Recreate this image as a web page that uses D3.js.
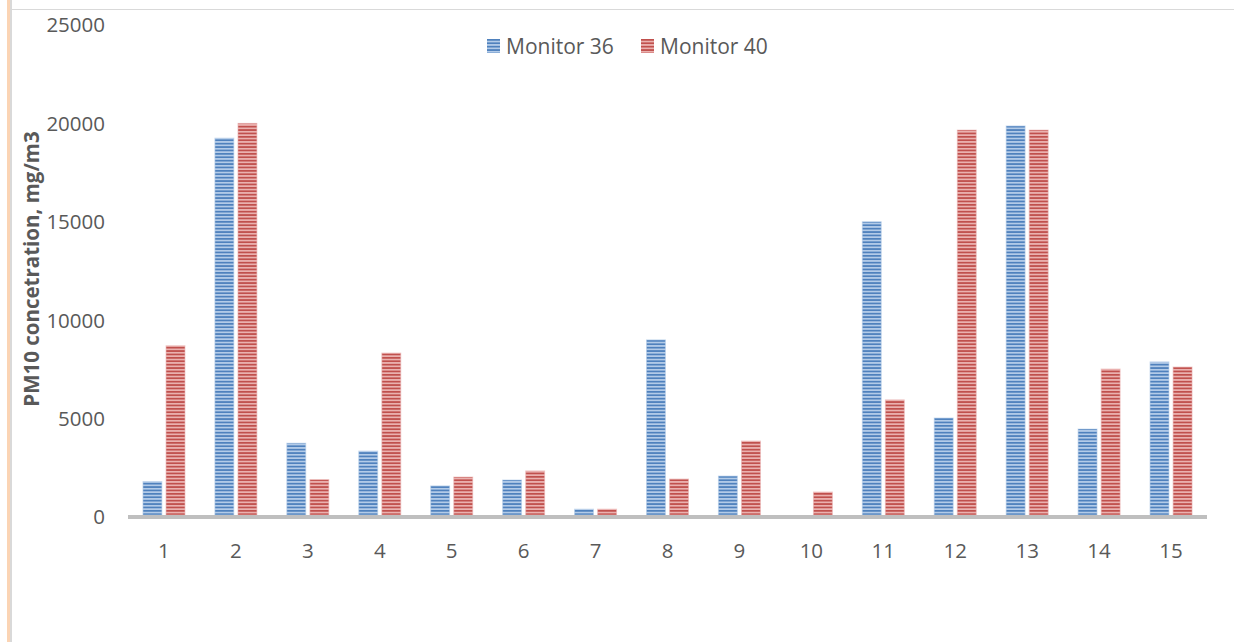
<!DOCTYPE html>
<html>
<head>
<meta charset="utf-8">
<script src="https://cdn.jsdelivr.net/npm/d3@7/dist/d3.min.js"></script>
<style>
  html, body { margin: 0; padding: 0; background: #fff; }
  svg { display: block; }
  text { font-family: "Open Sans", "DejaVu Sans", sans-serif; fill: #595959; }
</style>
</head>
<body>
<svg id="chart" width="1234" height="642"></svg>
<script>
// Sample numbers and the two monitor series (PM10, mg/m3)
const categories = ["1","2","3","4","5","6","7","8","9","10","11","12","13","14","15"];
const seriesNames = ["Monitor 36", "Monitor 40"];
const monitor36 = [1800, 19250, 3750, 3350, 1580, 1880, 400, 9000, 2080, 0, 15000, 5030, 19870, 4470, 7880];
const monitor40 = [8700, 20000, 1900, 8330, 2030, 2340, 400, 1930, 3860, 1270, 5950, 19660, 19660, 7520, 7620];
const yTicks = [0, 5000, 10000, 15000, 20000, 25000];
const yTitle = "PM10 concetration, mg/m3";

const seriesStyle = [
  { id: "stripeBlue", dark: "#4f81bd", light: "#b3cbe8" },
  { id: "stripeRed",  dark: "#c0504d", light: "#eab1af" }
];

const svg = d3.select("#chart");

// Frame edges
svg.append("rect").attr("x", 7).attr("y", 0).attr("width", 3).attr("height", 642).attr("fill", "#fbd4b4");
svg.append("rect").attr("x", 10).attr("y", 0).attr("width", 2).attr("height", 642).attr("fill", "#d9d9d9");
svg.append("rect").attr("x", 12).attr("y", 9).attr("width", 1222).attr("height", 1).attr("fill", "#d9d9d9");

// Horizontal stripe fills
const defs = svg.append("defs");
seriesStyle.forEach(s => {
  const p = defs.append("pattern")
    .attr("id", s.id)
    .attr("patternUnits", "userSpaceOnUse")
    .attr("width", 8).attr("height", 3.4);
  p.append("rect").attr("width", 8).attr("height", 3.4).attr("fill", s.light);
  p.append("rect").attr("y", 0).attr("width", 8).attr("height", 1.7).attr("fill", s.dark);
});

const x0 = d3.scaleBand().domain(categories).range([128, 1207]).padding(0);
const x1 = d3.scaleBand().domain(seriesNames).range([0, 42]).paddingInner(0.18);
const y = d3.scaleLinear().domain([0, 25000]).range([517, 25]);

const data = categories.map((c, i) => ({ cat: c, values: [monitor36[i], monitor40[i]] }));

// Bars
const groups = svg.append("g").selectAll("g")
  .data(data).join("g")
  .attr("transform", d => `translate(${x0(d.cat) + x0.bandwidth() / 2 - 21},0)`);

groups.selectAll("rect")
  .data(d => d.values.map((v, k) => ({ v, k })).filter(e => e.v > 0))
  .join("rect")
  .attr("x", e => x1(seriesNames[e.k]))
  .attr("width", x1.bandwidth())
  .attr("y", e => y(e.v))
  .attr("height", e => y(0) - 2 - y(e.v))
  .attr("fill", e => `url(#${seriesStyle[e.k].id})`)
  .attr("stroke", e => seriesStyle[e.k].light)
  .attr("stroke-opacity", 0.6)
  .attr("stroke-width", 1);

// Category axis line
svg.append("rect").attr("x", 128).attr("y", 515).attr("width", 1079).attr("height", 4).attr("fill", "#bfbfbf");

// Y tick labels
svg.append("g").selectAll("text")
  .data(yTicks).join("text")
  .attr("x", 105)
  .attr("y", d => y(d))
  .attr("dy", "0.36em")
  .attr("text-anchor", "end")
  .attr("font-size", 20.5)
  .text(d => d);

// X tick labels
svg.append("g").selectAll("text")
  .data(categories).join("text")
  .attr("x", d => x0(d) + x0.bandwidth() / 2)
  .attr("y", 558)
  .attr("text-anchor", "middle")
  .attr("font-size", 20.5)
  .text(d => d);

// Y axis title
svg.append("text")
  .attr("transform", "translate(39,269) rotate(-90)")
  .attr("text-anchor", "middle")
  .attr("font-size", 20.5)
  .attr("font-weight", "bold")
  .text(yTitle);

// Legend
const legendX = [487, 641];
const legend = svg.append("g").selectAll("g")
  .data(seriesNames).join("g")
  .attr("transform", (d, i) => `translate(${legendX[i]},39)`);
legend.append("rect")
  .attr("width", 13).attr("height", 14)
  .attr("fill", (d, i) => `url(#${seriesStyle[i].id})`);
legend.append("text")
  .attr("x", 19).attr("y", 14.5)
  .attr("font-size", 21)
  .text(d => d);
</script>
</body>
</html>
